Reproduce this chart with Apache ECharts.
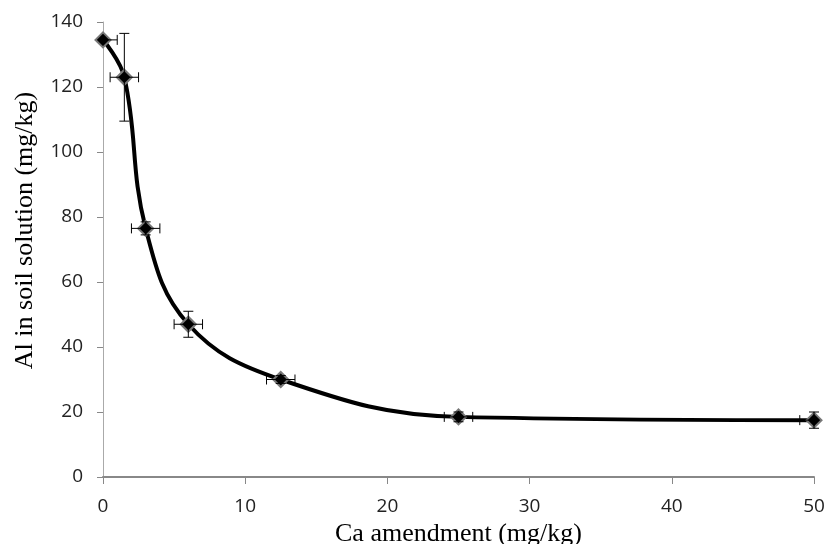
<!DOCTYPE html>
<html>
<head>
<meta charset="utf-8">
<script src="https://cdn.jsdelivr.net/npm/echarts@6/dist/echarts.min.js"></script>
<style>
html, body { margin: 0; padding: 0; background: #fff; }
#chart { width: 827px; height: 544px; }
</style>
</head>
<body>
<div id="chart"></div>
<script>
// Ca amendment (mg/kg) and Al in soil solution (mg/kg)
var ca = [0, 1.5, 3, 6, 12.5, 25, 50];
var al = [134.5, 123, 76.5, 47, 30, 18.5, 17.5];
var alErr = [0, 13.5, 2, 4, 1.2, 1.5, 2.5];
var caErr = [1, 1, 1, 1, 1, 1, 1];

var points = ca.map(function (x, i) { return [x, al[i]]; });
var errData = ca.map(function (x, i) { return [x, al[i], caErr[i], alErr[i]]; });

chart = echarts.init(document.getElementById("chart"));

function render_err(params, api) {
    var x = api.value(0), y = api.value(1), ex = api.value(2), ey = api.value(3);
    var c = api.coord([x, y]);
    var left = api.coord([Math.max(0, x - ex), y]);
    var right = api.coord([Math.min(50, x + ex), y]);
    var top = api.coord([x, y + ey]);
    var bot = api.coord([x, y - ey]);
    var cap = 5;
    var st = { stroke: '#000', lineWidth: 1 };
    var kids = [];
    if (x - ex >= 0) {
        kids.push({ type: 'line', shape: { x1: left[0], y1: c[1] - cap, x2: left[0], y2: c[1] + cap }, style: st });
    }
    if (x + ex <= 50) {
        kids.push({ type: 'line', shape: { x1: right[0], y1: c[1] - cap, x2: right[0], y2: c[1] + cap }, style: st });
    }
    kids.push({ type: 'line', shape: { x1: left[0], y1: c[1], x2: right[0], y2: c[1] }, style: st });
    if (ey > 0) {
        kids.push({ type: 'line', shape: { x1: c[0], y1: top[1], x2: c[0], y2: bot[1] }, style: st });
        kids.push({ type: 'line', shape: { x1: c[0] - cap, y1: top[1], x2: c[0] + cap, y2: top[1] }, style: st });
        kids.push({ type: 'line', shape: { x1: c[0] - cap, y1: bot[1], x2: c[0] + cap, y2: bot[1] }, style: st });
    }
    return { type: 'group', children: kids };
}

chart.setOption({
    animation: false,
    grid: { left: 103, right: 13, top: 22, bottom: 67, outerBoundsMode: 'none', containLabel: false },
    xAxis: {
        type: 'value',
        min: 0, max: 50, interval: 10,
        name: 'Ca amendment (mg/kg)',
        nameLocation: 'middle',
        nameGap: 39,
        nameTextStyle: { fontFamily: 'Liberation Serif', fontSize: 26, color: '#000' },
        axisLine: { lineStyle: { color: '#888', width: 2 } },
        axisTick: { show: true, length: 7, lineStyle: { color: '#888' } },
        axisLabel: { fontFamily: 'Open Sans', fontSize: 19, color: '#222', margin: 20 },
        splitLine: { show: false }
    },
    yAxis: {
        type: 'value',
        min: 0, max: 140, interval: 20,
        name: 'Al in soil solution (mg/kg)',
        nameLocation: 'middle',
        nameGap: 65,
        nameTextStyle: { fontFamily: 'Liberation Serif', fontSize: 26, color: '#000', padding: [0, 0, 0, 38] },
        axisLine: { show: true, lineStyle: { color: '#aaa', width: 1 } },
        axisTick: { show: true, length: 6, lineStyle: { color: '#888' } },
        axisLabel: { fontFamily: 'Open Sans', fontSize: 19, color: '#222', margin: 20 },
        splitLine: { show: false }
    },
    series: [
        {
            type: 'line',
            data: points,
            smooth: 0.4,
            lineStyle: { color: '#000', width: 4 },
            symbol: 'diamond',
            symbolSize: 15,
            itemStyle: { color: '#000', borderColor: '#777', borderWidth: 2 },
            z: 3
        },
        {
            type: 'custom',
            data: errData,
            renderItem: render_err,
            encode: { x: 0, y: 1 },
            z: 4
        }
    ]
});
</script>
</body>
</html>
